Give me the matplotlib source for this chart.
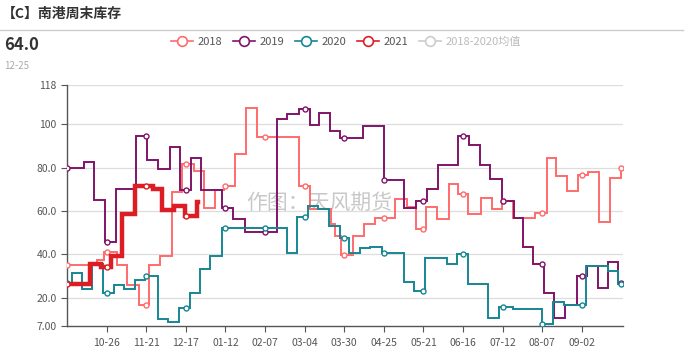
import pandas as pd
import numpy as np
import matplotlib
matplotlib.use("Agg")
import matplotlib.pyplot as plt
from matplotlib.lines import Line2D

plt.rcParams['font.family'] = ['Noto Sans CJK SC', 'DejaVu Sans']

# category axis: one slot per day, MM-DD labels
dates = pd.date_range('2019-09-30', '2020-09-29', freq='D')
categories = [d.strftime('%m-%d') for d in dates]
last_idx = len(categories) - 1

# weekly inventory, stored as (day index where value changes, value)
x_2018 = [0, 19.5, 24, 32.7, 39.3, 47, 53.6, 61.2, 69, 75.5, 83.2, 89.7, 97.4, 103, 110.6, 117.2,
          124.6, 152.5, 159.7, 173, 176, 180, 187.6, 194.7, 202.3, 215.5, 223, 229, 236, 243,
          251, 257, 263, 272, 279, 285.5, 293, 307, 315, 321, 328, 335.5, 342, 349, 356.5, 364]
v_2018 = [35.1, 37.4, 41.2, 35.1, 25.7, 16.9, 35.1, 39.3, 68.6, 81.8, 78.3, 61.2, 69.7, 71.3, 86.4, 107.3,
          94.1, 71.3, 60.9, 54.0, 48.6, 39.6, 48.6, 54.0, 56.8, 65.6, 61.7, 51.7, 61.7, 56.3,
          72.5, 67.9, 58.6, 65.9, 60.9, 64.5, 56.6, 58.9, 84.4, 76.1, 69.4, 76.4, 78.0, 54.7, 75.3, 79.8]

x_2019 = [0, 11, 18, 25, 32, 45.5, 52.5, 60, 67.6, 74.2, 81.6, 88.2, 101.5, 109, 116.8, 138, 144.4, 152,
          159.3, 165.7, 172.9, 179.5, 194, 207.8, 221.4, 229, 236.3, 243.4, 256.5, 264.2, 271.2,
          277.8, 285.5, 293.2, 299.2, 306, 313.4, 320, 327, 334.6, 341.2, 348.4, 355.4, 362]
v_2019 = [79.6, 82.6, 64.9, 45.5, 69.9, 94.4, 83.6, 79.5, 89.5, 69.7, 84.4, 69.7, 61.2, 56.3, 50.1, 102.3, 104.5, 107.0,
          99.8, 105.3, 96.9, 93.4, 99.1, 74.1, 61.2, 64.5, 70.2, 81.3, 94.4, 90.3, 81.0,
          74.5, 64.5, 56.6, 43.5, 35.4, 22.3, 10.7, 16.9, 30.0, 34.7, 24.6, 36.7, 26.6]

x_2020 = [0, 3, 10, 16.5, 23.5, 30.7, 37.3, 44.5, 51.5, 60, 66.3, 73.7, 81, 87.6, 94, 102,
          144.4, 151, 158, 165, 172, 179, 185, 192.5, 199, 207, 221, 227.6, 235.3, 249.3, 256,
          263, 276.7, 283.3, 293, 312, 319, 326.5, 340.6, 355.4, 362]
v_2020 = [27.0, 31.6, 24.2, 35.5, 22.0, 25.9, 23.9, 28.2, 30.1, 10.0, 8.7, 15.4, 22.0, 33.1, 39.3, 52.1,
          40.8, 57.1, 62.5, 60.9, 53.2, 47.5, 40.8, 42.7, 43.2, 40.8, 27.4, 23.1, 38.5, 35.4, 40.0,
          26.5, 10.7, 15.8, 14.9, 8.1, 18.1, 16.5, 34.7, 32.4, 26.2]

x_2021 = [0, 15.4, 22.6, 29.2, 36.3, 44.5, 56.4, 62.3, 70, 77.7, 85.5, 86]
v_2021 = [26.3, 35.5, 34.3, 39.1, 58.6, 71.3, 69.9, 60.6, 62.2, 57.8, 64.0, 64.0]

c2018, c2019, c2020, c2021, cavg = '#ff6b6b', '#80146a', '#178692', '#dc1e24', '#cccccc'

fig = plt.figure(figsize=(7, 3.64), dpi=100)
ax = fig.add_axes([67/700, 38/364, 556/700, 241/364])


def draw(xs, vs, color, lw, end, z):
    xs = list(xs) + ([end] if end > xs[-1] else [])
    vs = list(vs) + ([vs[-1]] if len(vs) < len(xs) else [])
    ax.plot(xs, vs, drawstyle='steps-post', color=color, lw=lw, zorder=z, solid_joinstyle='miter')
    # symbols shown on every labelled slot, like the original
    mx = [i for i in range(0, int(end) + 1, 26)]
    my = [vs[np.searchsorted(xs, i, side='right') - 1] for i in mx]
    ax.plot(mx, my, 'o', ms=3.6, mfc='white', mec=color, mew=1.0, zorder=z + 0.1)


draw(x_2018, v_2018, c2018, 1.4, last_idx, 3)
draw(x_2019, v_2019, c2019, 1.4, last_idx, 3)
draw(x_2020, v_2020, c2020, 1.4, last_idx, 3)
draw(x_2021, v_2021, c2021, 3.2, x_2021[-1], 5)

ax.set_xlim(0, last_idx)
ax.set_ylim(7, 118)
yt = [7, 20, 40, 60, 80, 100, 118]
ax.set_yticks(yt)
ax.set_yticklabels(['7.00', '20.0', '40.0', '60.0', '80.0', '100', '118'])
xt = list(range(26, 339, 26))
ax.set_xticks(xt)
ax.set_xticklabels([categories[i] for i in xt])
ax.tick_params(axis='both', colors='#555555', labelsize=7.5, length=4, width=0.8)
ax.tick_params(axis='x', pad=5)
for s in ['top', 'right']:
    ax.spines[s].set_visible(False)
for s in ['left', 'bottom']:
    ax.spines[s].set_color('#555555')
    ax.spines[s].set_linewidth(1.0)
for g in yt[1:]:
    ax.axhline(g, color='#dddddd', lw=0.9, zorder=1)

ax.text(0.453, 0.51, '作图：天风期货', transform=ax.transAxes, fontsize=15,
        color='#c8c8c8', ha='center', va='center', zorder=0)

# header
fig.text(2/700, 1 - 14/364, '【C】南港周末库存', fontsize=10, fontweight='bold',
         color='#333333', va='center')
fig.add_artist(Line2D([0, 683/700], [1 - 30/364] * 2, color='#cccccc', lw=1))
fig.text(4/700, 1 - 45/364, f'{v_2021[-1]:.1f}', fontsize=12, fontweight='bold',
         color='#333333', va='center')
fig.text(4/700, 1 - 66/364, categories[int(x_2021[-1])], fontsize=7,
         color='#aaaaaa', va='center')

labels = ['2018', '2019', '2020', '2021', '2018-2020均值']
colors = [c2018, c2019, c2020, c2021, cavg]
handles = [Line2D([], [], color=c, lw=1.2, marker='o', ms=7, mfc='white', mec=c, mew=1.2)
           for c in colors]
leg = fig.legend(handles, labels, loc='center', bbox_to_anchor=(346/700, 1 - 42/364), ncol=5,
                 frameon=False, fontsize=8, handlelength=2.0, handletextpad=0.45,
                 columnspacing=0.9, borderpad=0)
for t, c in zip(leg.get_texts(), ['#555555'] * 4 + ['#bbbbbb']):
    t.set_color(c)

fig.savefig('out.png', dpi=100)
